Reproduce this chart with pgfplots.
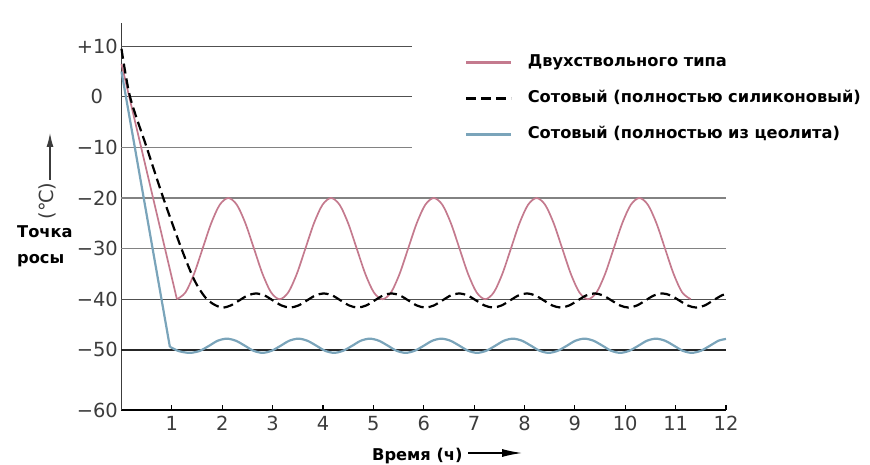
\documentclass[border=0pt]{standalone}
\usepackage{fontspec}
\setmainfont{DejaVu Sans}
\usepackage{pgfplots}
\pgfplotsset{compat=1.18}
\usetikzlibrary{arrows.meta}
\definecolor{pinkc}{RGB}{196,122,142}
\definecolor{bluec}{RGB}{122,164,186}
\definecolor{tickc}{RGB}{60,60,60}
\definecolor{gridA}{RGB}{80,80,80}
\definecolor{gridB}{RGB}{130,130,130}
\newcommand{\tickfont}{\fontsize{19.5}{22}\selectfont}
\newcommand{\lblfont}{\fontsize{16.3}{19}\selectfont\bfseries}
\begin{document}
\begin{tikzpicture}
\begin{axis}[
  at={(0,0)}, anchor=south west,
  scale only axis, width=604.5bp, height=387bp,
  xmin=0, xmax=12, ymin=-61.9, ymax=14.6,
  axis lines=left,
  axis line style={-},
  x axis line style={draw=black, line width=1.4bp},
  y axis line style={draw=tickc, line width=1.4bp},
  xtick={1,2,3,4,5,6,7,8,9,10,11,12},
  xticklabels={1,2,3,4,5,6,7,8,9,10,11,12},
  ytick={-61.9,-50,-40,-30,-20,-10,0,10},
  yticklabels={−60,−50,−40,−30,−20,−10,0,+10},
  tick align=inside, major tick length=5bp,
  x tick style={black, line width=1.2bp},
  y tick style={draw=none},
  ticklabel style={font=\tickfont, text=tickc, inner sep=0pt},
  xticklabel style={yshift=-6bp},
  yticklabel style={text width=40bp, align=center, xshift=-4.5bp},
  clip=false,
  legend cell align=left,
  legend image code/.code={\draw[#1] (0bp,0bp) -- (45bp,0bp);},
  legend style={at={(rel axis cs:0.5682,0.918)}, anchor=north west,
    draw=none, fill=none, inner sep=0pt, outer sep=0pt, font=\lblfont,
    row sep=20bp, nodes={inner sep=0pt, text height=12bp, text depth=4bp},
    /tikz/every odd column/.append style={column sep=15bp}},
]
\addlegendimage{pinkc, line width=2.8bp}
\addlegendentry{Двухствольного типа}
\addlegendimage{black, line width=2.6bp, dash pattern=on 10bp off 5bp}
\addlegendentry{Сотовый (полностью силиконовый)}
\addlegendimage{bluec, line width=2.8bp}
\addlegendentry{Сотовый (полностью из цеолита)}
% grid lines
\addplot[forget plot, gridA, line width=1.1bp] coordinates {(0,10) (5.77,10)};
\addplot[forget plot, gridA, line width=1.1bp] coordinates {(0,0) (5.77,0)};
\addplot[forget plot, gridB, line width=1.1bp] coordinates {(0,-10) (5.77,-10)};
\addplot[forget plot, gridB, line width=1.1bp] coordinates {(0,-20) (12,-20)};
\addplot[forget plot, gridB, line width=1.1bp] coordinates {(0,-30) (12,-30)};
\addplot[forget plot, gridA, line width=1.1bp] coordinates {(0,-40) (12,-40)};
\addplot[forget plot, black!85, line width=1.7bp] coordinates {(0,-50) (12,-50)};
% pink
\addplot[forget plot, pinkc, line width=1.7bp] coordinates {(0,6.5) (1.1,-40)};
\addplot[forget plot, pinkc, line width=1.7bp, smooth] coordinates {
(1.10,-40) (1.27,-38.66) (1.44,-35) (1.61,-30) (1.78,-25) (1.95,-21.34) (2.12,-20) (2.29,-21.34) (2.46,-25) (2.63,-30) (2.80,-35) (2.97,-38.66)
(3.14,-40) (3.31,-38.66) (3.48,-35) (3.65,-30) (3.82,-25) (3.99,-21.34) (4.16,-20) (4.33,-21.34) (4.50,-25) (4.67,-30) (4.84,-35) (5.01,-38.66)
(5.18,-40) (5.35,-38.66) (5.52,-35) (5.69,-30) (5.86,-25) (6.03,-21.34) (6.20,-20) (6.37,-21.34) (6.54,-25) (6.71,-30) (6.88,-35) (7.05,-38.66)
(7.22,-40) (7.39,-38.66) (7.56,-35) (7.73,-30) (7.90,-25) (8.07,-21.34) (8.24,-20) (8.41,-21.34) (8.58,-25) (8.75,-30) (8.92,-35) (9.09,-38.66)
(9.26,-40) (9.43,-38.66) (9.60,-35) (9.77,-30) (9.94,-25) (10.11,-21.34) (10.28,-20) (10.45,-21.34) (10.62,-25) (10.79,-30) (10.96,-35) (11.13,-38.66)
(11.30,-40)};
% dashed
\addplot[forget plot, black, line width=2.2bp, dash pattern=on 10bp off 5bp, smooth] coordinates {
(0,9.5) (0.17,0) (0.5,-10) (0.83,-20) (1.19,-30) (1.45,-36.3) (1.66,-39.6) (1.83,-41.0)
(2.000,-41.65) (2.168,-41.24) (2.336,-40.25) (2.504,-39.26) (2.672,-38.85) (2.840,-39.26) (3.008,-40.25) (3.176,-41.24)
(3.344,-41.65) (3.512,-41.24) (3.680,-40.25) (3.848,-39.26) (4.016,-38.85) (4.184,-39.26) (4.352,-40.25) (4.520,-41.24)
(4.688,-41.65) (4.856,-41.24) (5.024,-40.25) (5.192,-39.26) (5.360,-38.85) (5.528,-39.26) (5.696,-40.25) (5.864,-41.24)
(6.032,-41.65) (6.200,-41.24) (6.368,-40.25) (6.536,-39.26) (6.704,-38.85) (6.872,-39.26) (7.040,-40.25) (7.208,-41.24)
(7.376,-41.65) (7.544,-41.24) (7.712,-40.25) (7.880,-39.26) (8.048,-38.85) (8.216,-39.26) (8.384,-40.25) (8.552,-41.24)
(8.720,-41.65) (8.888,-41.24) (9.056,-40.25) (9.224,-39.26) (9.392,-38.85) (9.560,-39.26) (9.728,-40.25) (9.896,-41.24)
(10.064,-41.65) (10.232,-41.24) (10.400,-40.25) (10.568,-39.26) (10.736,-38.85) (10.904,-39.26) (11.072,-40.25) (11.240,-41.24)
(11.408,-41.65) (11.576,-41.24) (11.744,-40.25) (11.912,-39.26) (12.0,-38.95)};
% blue
\addplot[forget plot, bluec, line width=2.2bp] coordinates {(0,5) (0.96,-49.4)};
\addplot[forget plot, bluec, line width=2.2bp, smooth] coordinates {
(0.96,-49.4) (1.12,-50.2) (1.25,-50.5)
(1.38,-50.6) (1.56,-50.19) (1.74,-49.2) (1.91,-48.21) (2.09,-47.8) (2.27,-48.21) (2.45,-49.2) (2.62,-50.19)
(2.80,-50.6) (2.98,-50.19) (3.16,-49.2) (3.33,-48.21) (3.51,-47.8) (3.69,-48.21) (3.87,-49.2) (4.04,-50.19)
(4.22,-50.6) (4.40,-50.19) (4.58,-49.2) (4.75,-48.21) (4.93,-47.8) (5.11,-48.21) (5.29,-49.2) (5.46,-50.19)
(5.64,-50.6) (5.82,-50.19) (6.00,-49.2) (6.17,-48.21) (6.35,-47.8) (6.53,-48.21) (6.71,-49.2) (6.88,-50.19)
(7.06,-50.6) (7.24,-50.19) (7.42,-49.2) (7.59,-48.21) (7.77,-47.8) (7.95,-48.21) (8.13,-49.2) (8.30,-50.19)
(8.48,-50.6) (8.66,-50.19) (8.84,-49.2) (9.01,-48.21) (9.19,-47.8) (9.37,-48.21) (9.55,-49.2) (9.72,-50.19)
(9.90,-50.6) (10.08,-50.19) (10.26,-49.2) (10.43,-48.21) (10.61,-47.8) (10.79,-48.21) (10.97,-49.2) (11.14,-50.19)
(11.32,-50.6) (11.50,-50.19) (11.68,-49.2) (11.85,-48.21) (12.0,-47.85)};
\end{axis}
\node[anchor=base west, font=\lblfont, inner sep=0pt] at (-104.5bp,172.5bp) {Точка};
\node[anchor=base west, font=\lblfont, inner sep=0pt] at (-104.5bp,146bp) {росы};
\node[rotate=90, font=\tickfont, text=tickc, inner sep=0pt] at (-74.5bp,209bp) {(℃)};
\draw[tickc, line width=1.2bp, -{Latex[length=14bp,width=7bp]}] (-71.5bp,230bp) -- (-71.5bp,277bp);
\node[anchor=base west, font=\lblfont, inner sep=0pt] at (250.5bp,-50bp) {Время (ч)};
\draw[black, line width=1.2bp, -{Latex[length=20bp,width=8bp]}] (346.5bp,-43bp) -- (400.5bp,-43bp);
\pgfresetboundingbox
\path[use as bounding box] (-121.5bp,-55bp) rectangle (748.5bp,410bp);
\end{tikzpicture}
\end{document}
